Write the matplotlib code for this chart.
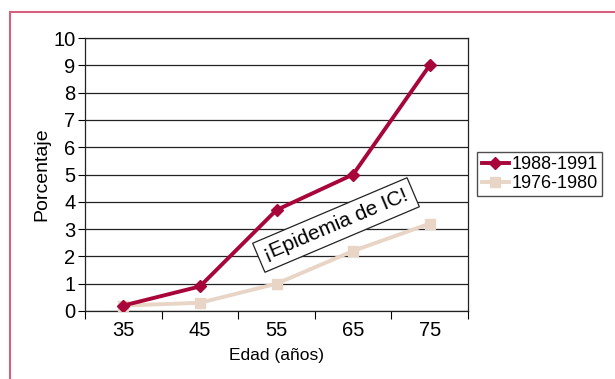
import matplotlib
matplotlib.use("Agg")
import matplotlib.pyplot as plt
from matplotlib.patches import Rectangle

plt.rcParams['font.family'] = ['Liberation Sans', 'DejaVu Sans']

categories = ['35', '45', '55', '65', '75']
serie_1988 = [0.2, 0.9, 3.7, 5.0, 9.0]
serie_1976 = [0.2, 0.3, 1.0, 2.2, 3.2]
labels = ['1988-1991', '1976-1980']
yticks = list(range(0, 11))

red = '#a8063a'
beige = '#e8d5c5'

fig = plt.figure(figsize=(6.15, 3.79), dpi=100)
fig.patches.append(Rectangle((10/615, -0.05), 1.0, 1 - 12/379 + 0.05,
                             transform=fig.transFigure, fill=False,
                             edgecolor='#d4607e', linewidth=1.5))

ax = fig.add_axes([85/615, 1 - 311/379, (468 - 85)/615, (311 - 38)/379])
x = list(range(len(categories)))
ax.plot(x, serie_1976, color=beige, lw=2.8, marker='s', ms=7.5, label=labels[1], zorder=3)
ax.plot(x, serie_1988, color=red, lw=2.8, marker='D', ms=6, label=labels[0], zorder=4)

ax.set_xlim(-0.5, len(categories) - 0.5)
ax.set_ylim(0, 10)
ax.set_yticks(yticks)
ax.yaxis.grid(True, color='#222222', lw=0.9)
ax.set_axisbelow(True)
ax.set_xticks(x)
ax.set_xticklabels(categories)
ax.set_xticks([i - 0.5 for i in range(len(categories) + 1)], minor=True)
ax.tick_params(axis='x', which='major', length=0, labelsize=14.5, pad=7)
ax.tick_params(axis='x', which='minor', length=6, width=0.8, direction='out')
ax.tick_params(axis='y', length=5, width=0.8, labelsize=14.5, pad=2)
for s in ax.spines.values():
    s.set_color('#222222')
    s.set_linewidth(0.9)

ax.set_ylabel('Porcentaje', fontsize=14, labelpad=2)
ax.set_xlabel('Edad (años)', fontsize=12.5, labelpad=6)

h, l = ax.get_legend_handles_labels()
leg = fig.legend([h[1], h[0]], [l[1], l[0]], loc='center left',
                 bbox_to_anchor=(477/615, 1 - 174/379), fontsize=13,
                 frameon=True, fancybox=False, handlelength=1.5,
                 handletextpad=0.15, borderpad=0.25, labelspacing=0.1,
                 borderaxespad=0)
leg.get_frame().set_edgecolor('#222222')
leg.get_frame().set_linewidth(1.0)

fig.text(336/615, 1 - 225/379, '¡Epidemia de IC!', fontsize=15, rotation=23,
         ha='center', va='center', rotation_mode='anchor',
         bbox=dict(boxstyle='square,pad=0.3', fc='white', ec='#222222', lw=0.9),
         zorder=10)

fig.savefig('out.png', dpi=100)
